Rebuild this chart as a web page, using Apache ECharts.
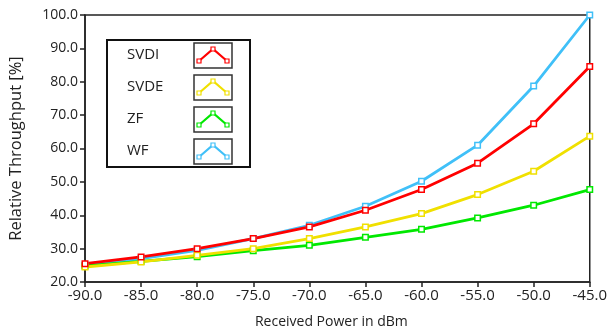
<!DOCTYPE html>
<html><head><meta charset="utf-8">
<script src="https://cdn.jsdelivr.net/npm/echarts@6/dist/echarts.min.js"></script>
<style>html,body{margin:0;padding:0;background:#fff}#c{width:610px;height:335px}</style>
</head><body><div id="c"></div>
<script>
const xValues = [-90, -85, -80, -75, -70, -65, -60, -55, -50, -45];
const svdi = [25.5, 27.5, 30.0, 33.0, 36.5, 41.5, 47.7, 55.6, 67.4, 84.6];
const svde = [24.5, 26.0, 28.0, 30.0, 33.0, 36.5, 40.5, 46.2, 53.2, 63.7];
const zf   = [24.8, 26.2, 27.6, 29.4, 31.0, 33.4, 35.8, 39.2, 43.0, 47.7];
const wf   = [25.0, 27.0, 29.5, 33.0, 37.0, 42.7, 50.2, 61.0, 78.7, 100.0];
const seriesNames = ['SVDI', 'SVDE', 'ZF', 'WF'];
const seriesColors = ['#ff0000', '#f0e000', '#00e800', '#40c0f8'];

const FONT = 'Open Sans';
const chart = echarts.init(document.getElementById('c'), null, {renderer: 'canvas'});

function mk(name, vals, color) {
  return {
    name, type: 'line', data: xValues.map((x, i) => [x, vals[i]]),
    symbol: 'rect', symbolSize: 5.5, showSymbol: true,
    itemStyle: {color: '#fff', borderColor: color, borderWidth: 1.5},
    lineStyle: {color, width: 2.8}, animation: false, z: 3
  };
}

// legend graphic
const gx = 107, gy = 40;
const rowsY = [43, 75, 107, 139];
const legendEls = [{
  type: 'rect', shape: {x: gx, y: gy, width: 143, height: 127},
  style: {fill: '#fff', stroke: '#111', lineWidth: 2}, z: 10
}];
seriesNames.forEach((n, i) => {
  const by = rowsY[i];
  legendEls.push({type: 'text', x: 127, y: by + 12, z: 11,
    style: {text: n, fill: '#222', font: '15px ' + FONT, verticalAlign: 'middle'}});
  legendEls.push({type: 'rect', shape: {x: 194, y: by, width: 38, height: 25}, z: 11,
    style: {fill: '#fff', stroke: '#333', lineWidth: 1.5}});
  const pts = [[199, by + 18], [213, by + 6], [227, by + 18]];
  legendEls.push({type: 'polyline', shape: {points: pts}, z: 12,
    style: {stroke: seriesColors[i], lineWidth: 2.2, fill: null}});
  pts.forEach(p => legendEls.push({type: 'rect', z: 13,
    shape: {x: p[0] - 2, y: p[1] - 2, width: 4, height: 4},
    style: {fill: '#fff', stroke: seriesColors[i], lineWidth: 1.2}}));
});

chart.setOption({
  backgroundColor: '#fff',
  animation: false,
  grid: {left: 79, right: 17, top: 15, bottom: 53, show: true, borderColor: '#222', borderWidth: 1.5, backgroundColor: 'transparent'},
  xAxis: {
    type: 'value', min: -90, max: -45, interval: 5,
    name: 'Received Power in dBm', nameLocation: 'middle', nameGap: 33,
    nameTextStyle: {fontFamily: FONT, fontSize: 14, color: '#222', padding: [0, 12, 0, 0]},
    axisLine: {show: true, onZero: false, lineStyle: {color: '#222', width: 1.5}},
    axisTick: {show: true, length: 5, lineStyle: {color: '#222', width: 1.5}},
    axisLabel: {fontFamily: FONT, fontSize: 15, color: '#222', margin: 6, formatter: v => v.toFixed(1)},
    splitLine: {show: false}
  },
  yAxis: {
    type: 'value', min: 20, max: 100, interval: 10,
    name: 'Relative Throughput [%]', nameLocation: 'middle', nameGap: 60, nameRotate: 90,
    nameTextStyle: {fontFamily: FONT, fontSize: 16.5, color: '#222'},
    axisLine: {show: true, lineStyle: {color: '#222', width: 1.5}},
    axisTick: {show: true, length: 5, lineStyle: {color: '#222', width: 1.5}},
    axisLabel: {fontFamily: FONT, fontSize: 14, color: '#222', margin: 7, formatter: v => v.toFixed(1)},
    splitLine: {show: false}
  },
  series: [mk('WF', wf, seriesColors[3]), mk('ZF', zf, seriesColors[2]), mk('SVDE', svde, seriesColors[1]), mk('SVDI', svdi, seriesColors[0])],
  graphic: legendEls
});
</script></body></html>
